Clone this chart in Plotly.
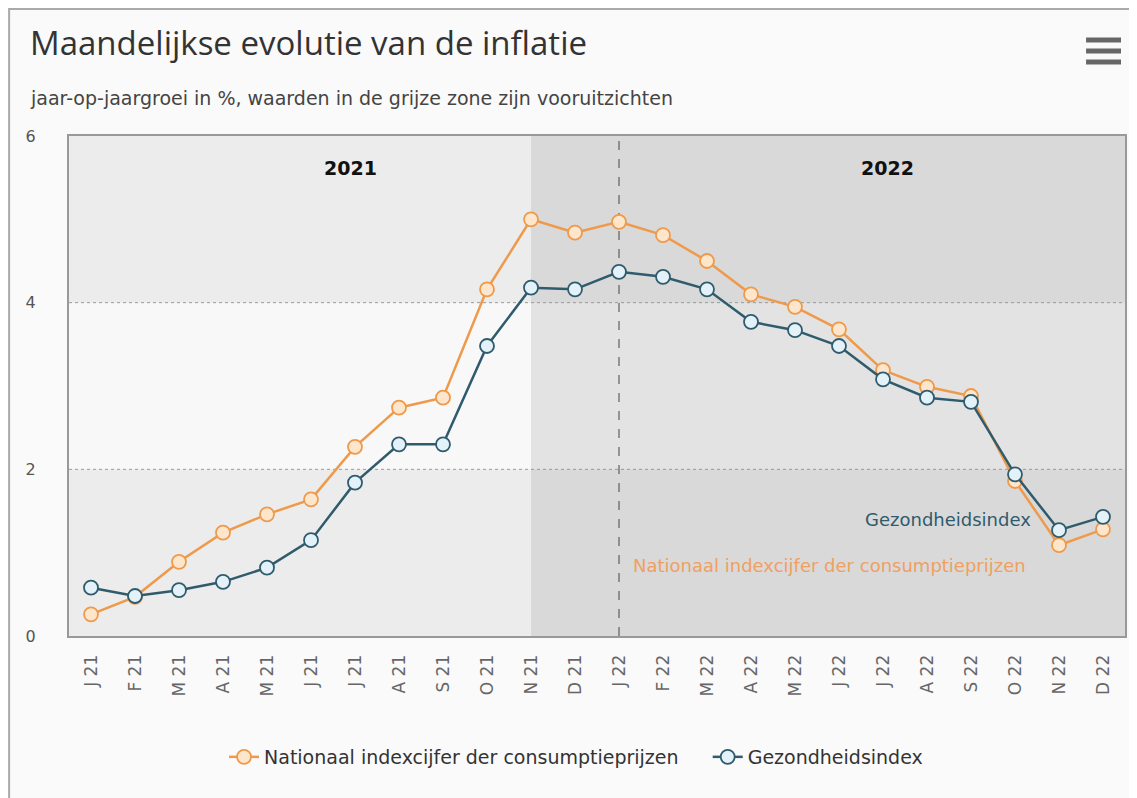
import plotly.graph_objects as go

months = ["J 21", "F 21", "M 21", "A 21", "M 21", "J 21", "J 21", "A 21", "S 21", "O 21", "N 21", "D 21",
          "J 22", "F 22", "M 22", "A 22", "M 22", "J 22", "J 22", "A 22", "S 22", "O 22", "N 22", "D 22"]
nationaal = [0.26, 0.47, 0.89, 1.24, 1.46, 1.64, 2.27, 2.74, 2.86, 4.16, 5.00, 4.84,
             4.97, 4.81, 4.50, 4.10, 3.95, 3.68, 3.19, 2.99, 2.88, 1.86, 1.09, 1.28]
gezondheid = [0.58, 0.48, 0.55, 0.65, 0.82, 1.15, 1.84, 2.30, 2.30, 3.48, 4.18, 4.16,
              4.37, 4.31, 4.16, 3.77, 3.67, 3.48, 3.08, 2.86, 2.81, 1.94, 1.27, 1.43]
year_labels = ["2021", "2022"]
name_nat = "Nationaal indexcijfer der consumptieprijzen"
name_gez = "Gezondheidsindex"
title = "Maandelijkse evolutie van de inflatie"
subtitle = "jaar-op-jaargroei in %, waarden in de grijze zone zijn vooruitzichten"

ORANGE = "#ef9a4a"
BLUE = "#2f5b6d"
FONT = "DejaVu Sans"
x = list(range(len(months)))

# page has an 8px body margin: compensate so the chart lines up with the window
OFF = 8
W, H = 1137 - OFF, 798 - OFF
L, R, T, B = 69 - OFF, 10, 136 - OFF, 162
pw, ph = W - L - R, H - T - B


def px(xp):
    return (xp - OFF - L) / pw


def py(yp):
    return 1 - (yp - OFF - T) / ph


fig = go.Figure()
fig.add_trace(go.Scatter(
    x=x, y=nationaal, name=name_nat + "&nbsp;" * 4, mode="lines+markers",
    line=dict(color=ORANGE, width=2.5),
    marker=dict(size=14, color="#fde6cc", line=dict(color=ORANGE, width=1.8)),
))
fig.add_trace(go.Scatter(
    x=x, y=gezondheid, name=name_gez, mode="lines+markers",
    line=dict(color=BLUE, width=2.5),
    marker=dict(size=14, color="#e3f1f8", line=dict(color=BLUE, width=1.8)),
))

split = 10
fig.add_shape(type="rect", xref="x", yref="y", x0=-0.5, x1=split, y0=0, y1=6,
              fillcolor="#ececec", line_width=0, layer="below")
fig.add_shape(type="rect", xref="x", yref="y", x0=-0.5, x1=split, y0=2, y1=4,
              fillcolor="#f8f8f8", line_width=0, layer="below")
fig.add_shape(type="rect", xref="x", yref="y", x0=split, x1=23.5, y0=0, y1=6,
              fillcolor="#d9d9d9", line_width=0, layer="below")
fig.add_shape(type="rect", xref="x", yref="y", x0=split, x1=23.5, y0=2, y1=4,
              fillcolor="#e3e3e3", line_width=0, layer="below")
fig.add_shape(type="line", xref="x", yref="y", x0=12, x1=12, y0=0, y1=6,
              line=dict(color="#444", width=1, dash="dash"), layer="below")
for gy in [2, 4]:
    fig.add_shape(type="line", xref="x", yref="y", x0=-0.5, x1=23.5, y0=gy, y1=gy,
                  line=dict(color="#999", width=1, dash="dot"), layer="below")

fig.add_annotation(x=5.9, y=5.62, xref="x", yref="y", text="<b>" + year_labels[0] + "</b>",
                   showarrow=False, font=dict(size=19, color="#111", family=FONT))
fig.add_annotation(x=18.1, y=5.62, xref="x", yref="y", text="<b>" + year_labels[1] + "</b>",
                   showarrow=False, font=dict(size=19, color="#111", family=FONT))
fig.add_annotation(x=21.4, y=1.4, xref="x", yref="y", text=name_gez, showarrow=False,
                   xanchor="right", font=dict(size=18, color=BLUE, family=FONT))
fig.add_annotation(x=21.3, y=0.85, xref="x", yref="y", text=name_nat, showarrow=False,
                   xanchor="right", font=dict(size=18, color="#f0a060", family=FONT))

fig.add_annotation(x=px(28), y=py(42), xref="paper", yref="paper", text=title,
                   showarrow=False, xanchor="left", yanchor="middle",
                   font=dict(size=33, color="#333", family="Open Sans"))
fig.add_annotation(x=px(28), y=py(98), xref="paper", yref="paper", text=subtitle,
                   showarrow=False, xanchor="left", yanchor="middle",
                   font=dict(size=19, color="#444", family=FONT))

for yy in [40, 51, 62]:
    fig.add_shape(type="rect", xref="paper", yref="paper",
                  x0=px(1088), x1=px(1123), y0=py(yy + 2.5), y1=py(yy - 2.5),
                  fillcolor="#666", line_width=0)
fig.add_shape(type="rect", xref="paper", yref="paper",
              x0=px(9), x1=px(1136), y0=py(800), y1=py(9),
              line=dict(color="#aaaaaa", width=2), fillcolor="rgba(0,0,0,0)", layer="below")

fig.update_layout(
    width=W, height=H,
    margin=dict(l=L, r=R, t=T, b=B),
    paper_bgcolor="#fafafa", plot_bgcolor="#ececec",
    font=dict(family=FONT, color="#555"),
    showlegend=True,
    legend=dict(orientation="h", x=px(577), xanchor="center", y=py(757), yanchor="middle",
                font=dict(size=19, color="#333", family=FONT), bgcolor="rgba(0,0,0,0)"),
    xaxis=dict(range=[-0.5, 23.5], tickmode="array", tickvals=x, ticktext=months,
               tickangle=-90, tickfont=dict(size=17, color="#666"), showgrid=False,
               zeroline=False, showline=True, linecolor="#999", linewidth=2, mirror=True,
               ticks="", ticklabelstandoff=10, fixedrange=True),
    yaxis=dict(range=[0, 6], tickvals=[0, 2, 4, 6], tickfont=dict(size=16, color="#555"),
               showgrid=False, zeroline=False, showline=True, linecolor="#999", linewidth=2,
               mirror=True, ticks="", ticklabelstandoff=28, fixedrange=True),
)

fig.write_html("out.html")
